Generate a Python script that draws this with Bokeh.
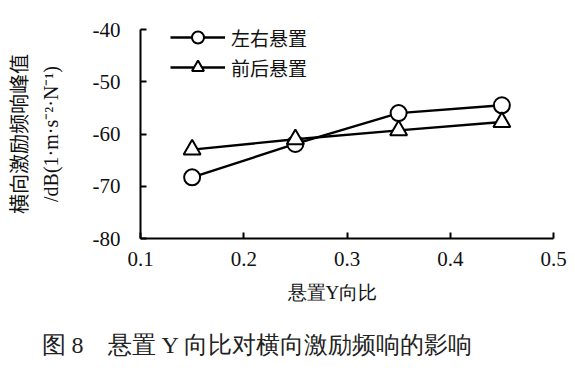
from bokeh.plotting import figure
from bokeh.models import (Range1d, FixedTicker, Legend, LegendItem, LinearAxis, Title)
from bokeh.embed import file_html
from bokeh.resources import INLINE

# ---- data ----
ratio = [0.15, 0.25, 0.35, 0.45]
lr_mount = [-68.3, -61.9, -56.0, -54.5]      # 左右悬置
fb_mount = [-63.0, -61.0, -59.3, -57.7]      # 前后悬置
x_ticks = [0.1, 0.2, 0.3, 0.4, 0.5]
x_tick_labels = ["0.1", "0.2", "0.3", "0.4", "0.5"]
y_ticks = [-80, -70, -60, -50, -40]
y_tick_labels = ["-80", "-70", "-60", "-50", "-40"]
series_names = ["左右悬置", "前后悬置"]
x_title = "悬置Y向比"
y_title_1 = "横向激励频响峰值"
y_title_2 = "/dB(1·m·s⁻²·N⁻¹)"
caption = "图 8　悬置 Y 向比对横向激励频响的影响"

W, H = 567, 379
FL, FT, FW, FH = 135, 29, 418, 209

SERIF = "Liberation Serif"
CJK = "Noto Sans CJK SC"
TXT = "#111111"

p = figure(width=W, height=H, output_backend="svg", toolbar_location=None,
           x_range=Range1d(0.1, 0.5), y_range=Range1d(-80, -40),
           min_border_left=FL, min_border_top=FT,
           min_border_right=W - FL - FW, min_border_bottom=H - FT - FH)
p.outline_line_color = None
p.grid.visible = False
p.background_fill_color = "white"

for ax in (p.xaxis[0], p.yaxis[0]):
    ax.axis_line_width = 2
    ax.axis_line_color = "black"
    ax.major_tick_line_width = 2
    ax.major_tick_line_color = "black"
    ax.major_tick_in = 6
    ax.major_tick_out = 0
    ax.minor_tick_line_color = None
    ax.major_label_text_font = SERIF
    ax.major_label_text_font_size = "21px"
    ax.major_label_text_color = TXT

p.xaxis.ticker = FixedTicker(ticks=x_ticks)
p.xaxis.major_label_overrides = {t: s for t, s in zip(x_ticks, x_tick_labels)}
p.xaxis.major_label_standoff = 13

p.yaxis.ticker = FixedTicker(ticks=y_ticks)
p.yaxis.major_label_overrides = {t: s for t, s in zip(y_ticks, y_tick_labels)}
p.yaxis.major_label_standoff = 20
p.yaxis.axis_label = y_title_2
p.yaxis.axis_label_text_font = SERIF
p.yaxis.axis_label_text_font_style = "normal"
p.yaxis.axis_label_text_font_size = "20px"
p.yaxis.axis_label_text_color = TXT
p.yaxis.axis_label_standoff = 28

# outer left axis carrying only the first line of the y title
ax2 = LinearAxis(ticker=FixedTicker(ticks=[]), axis_line_color=None,
                 major_tick_line_color=None, minor_tick_line_color=None,
                 axis_label=y_title_1, axis_label_text_font=CJK,
                 axis_label_text_font_style="normal",
                 axis_label_text_font_size="20px", axis_label_text_color=TXT,
                 axis_label_standoff=4)
p.add_layout(ax2, "left")

l1 = p.line(ratio, lr_mount, line_color="black", line_width=2.4)
s1 = p.scatter(ratio, lr_mount, marker="circle", size=16, fill_color="white",
               line_color="black", line_width=2)
l2 = p.line(ratio, fb_mount, line_color="black", line_width=2.4)
s2 = p.scatter(ratio, fb_mount, marker="triangle", size=17, fill_color="white",
               line_color="black", line_width=2)

legend = Legend(items=[LegendItem(label=series_names[0], renderers=[l1, s1]),
                       LegendItem(label=series_names[1], renderers=[l2, s2])],
                location=(30, 156), orientation="vertical",
                glyph_width=55, glyph_height=30, label_height=30,
                label_standoff=6, spacing=0, padding=0, margin=0,
                border_line_color=None, background_fill_alpha=0,
                label_text_font=CJK, label_text_font_size="19px",
                label_text_color=TXT)
p.add_layout(legend)

# x-axis title and figure caption as titles below the plot
# (serif primary font keeps the text box compact; CJK glyphs fall back)
xt = Title(text=x_title, align="left", offset=147, standoff=22,
           text_font=SERIF, text_font_size="19px", text_font_style="normal",
           text_color=TXT)
p.add_layout(xt, "below")
cap = Title(text=caption, align="left", offset=-99, standoff=33,
            text_font=SERIF, text_font_size="24px", text_font_style="normal",
            text_color="#222222")
p.add_layout(cap, "below")

open("out.html", "w").write(file_html(p, INLINE))
